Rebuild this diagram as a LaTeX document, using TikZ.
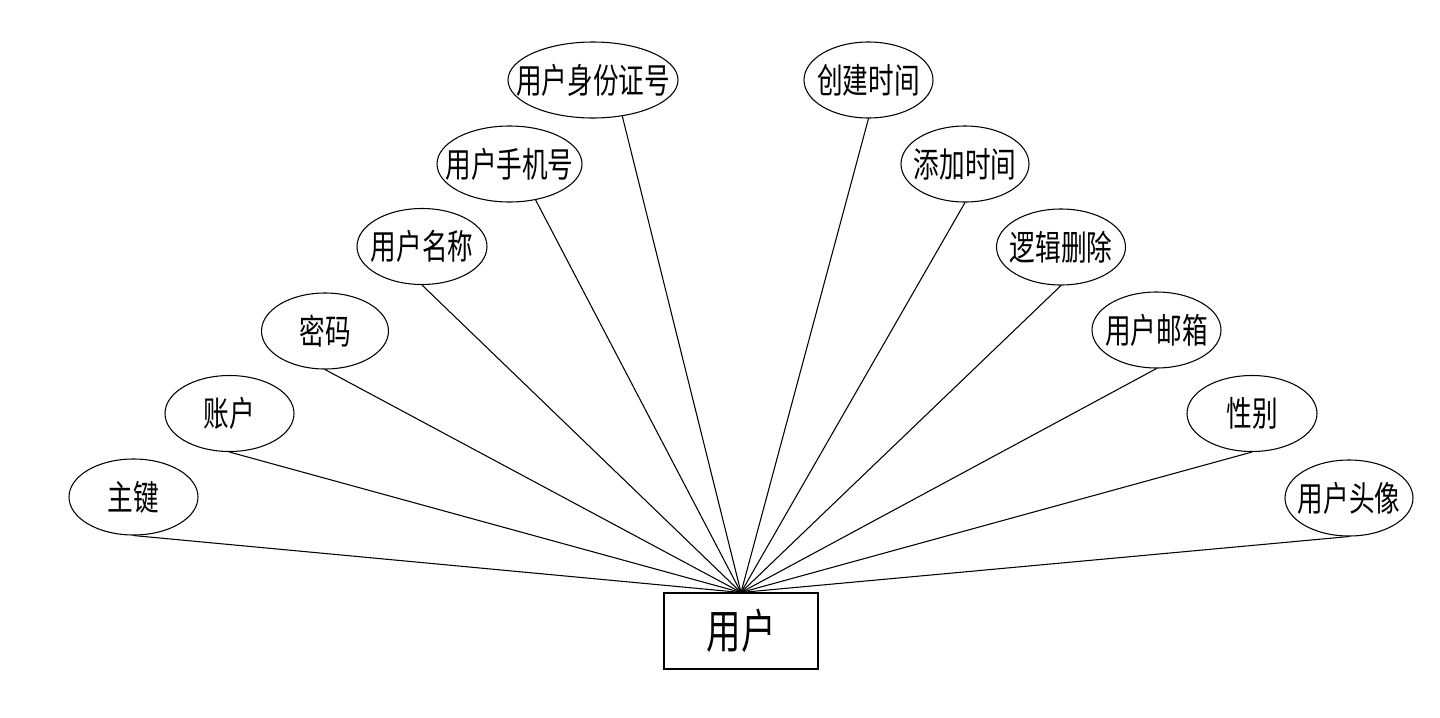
\documentclass[tikz,border=0pt]{standalone}
\usepackage{fontspec}
\usetikzlibrary{shapes.geometric}
\newfontfamily\cjk[FakeStretch=0.74]{Noto Sans CJK SC}
\tikzset{
  attr/.style={draw, ellipse, line width=0.8pt, inner sep=0pt, minimum height=57pt,
    font=\cjk\fontsize{26pt}{30pt}\selectfont},
  ent/.style={draw, rectangle, line width=0.8pt, inner sep=0pt, minimum width=115.5pt, minimum height=57pt,
    font=\cjk\fontsize{35pt}{40pt}\selectfont},
  link/.style={line width=0.8pt}
}
\newcommand{\tx}[1]{\makebox[0pt][c]{\raisebox{-2pt}{#1}}}
\begin{document}
\begin{tikzpicture}[x=0.75pt,y=-0.75pt]
\useasboundingbox (0,0) rectangle (1440,718);
\node[ent] (u) at (741,631) {\tx{用户}};
\node[attr, minimum width=96.75pt] (zj) at (133.5,497) {\tx{主键}};
\node[attr, minimum width=96.75pt] (zh) at (229.5,413.5) {\tx{账户}};
\node[attr, minimum width=95.25pt] (mm) at (325,331) {\tx{密码}};
\node[attr, minimum width=97.5pt] (mc) at (422,246.5) {\tx{用户名称}};
\node[attr, minimum width=108.75pt] (sj) at (509.5,164) {\tx{用户手机号}};
\node[attr, minimum width=127.5pt] (sfz) at (593,80) {\tx{用户身份证号}};
\node[attr, minimum width=96.75pt] (cj) at (868.5,80) {\tx{创建时间}};
\node[attr, minimum width=96pt] (tj) at (965,164) {\tx{添加时间}};
\node[attr, minimum width=96.75pt] (lj) at (1061,247) {\tx{逻辑删除}};
\node[attr, minimum width=96.75pt] (yx) at (1156.5,330) {\tx{用户邮箱}};
\node[attr, minimum width=97.5pt] (xb) at (1252,413.5) {\tx{性别}};
\node[attr, minimum width=96pt] (tx) at (1349,498) {\tx{用户头像}};
\draw[link] (zj.south) -- (u.north);
\draw[link] (zh.south) -- (u.north);
\draw[link] (mm.south) -- (u.north);
\draw[link] (mc.south) -- (u.north);
\draw[link] (sj.-54) -- (u.north);
\draw[link] (sfz.-51) -- (u.north);
\draw[link] (cj.south) -- (u.north);
\draw[link] (tj.south) -- (u.north);
\draw[link] (lj.south) -- (u.north);
\draw[link] (yx.south) -- (u.north);
\draw[link] (xb.south) -- (u.north);
\draw[link] (tx.south) -- (u.north);
\end{tikzpicture}
\end{document}
